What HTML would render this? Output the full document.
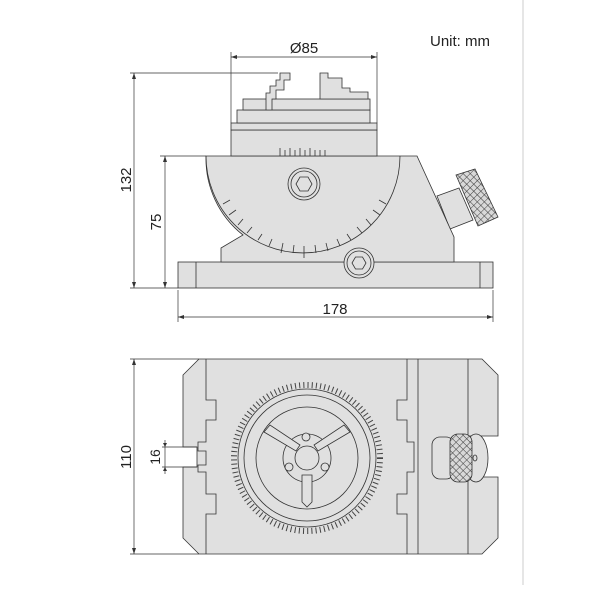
<!DOCTYPE html>
<html><head><style>
html,body{margin:0;padding:0;background:#fff;}
svg{display:block;}
text{font-family:"Liberation Sans",Arial,sans-serif;fill:#222;}
</style></head><body>
<svg width="600" height="600" viewBox="0 0 600 600" xmlns="http://www.w3.org/2000/svg">
<defs>
<pattern id="kn" width="5" height="5" patternUnits="userSpaceOnUse" patternTransform="rotate(45)">
<rect width="5" height="5" fill="#d8d8d8"/>
<path d="M0 0H5M0 0V5" stroke="#333" stroke-width="0.9"/>
</pattern>
</defs>
<line x1="523" y1="0" x2="523" y2="585" stroke="#ccc" stroke-width="1"/>
<text x="430" y="46" font-size="15">Unit: mm</text>

<g stroke="#333" stroke-width="0.8" fill="#e0e0e0">
<polygon points="437,196 459,188 473,220 450,229"/>
<polygon points="456,175 475,169 498,217 478,226" fill="url(#kn)"/>
<rect x="178" y="262" width="315" height="26"/>
<line x1="196" y1="262" x2="196" y2="288"/>
<line x1="480" y1="262" x2="480" y2="288"/>
<path d="M206,156 L417,156 L454,237 L454,262 L221,262 L221,248 L243,235 A97,97 0 0 1 206,156 Z"/>
<path d="M206,156 A97,97 0 0 0 400,156" fill="none"/>
<rect x="231" y="130" width="146" height="26"/>
<rect x="231" y="123" width="146" height="7"/>
<rect x="237" y="110" width="133" height="13"/>
<rect x="243" y="99" width="127" height="11"/>
<path d="M266,110 V93 H270 V86 H276 V80 H280 V73 H290 V80 H284 V90 H276 V99 H272 V110 Z"/>
<path d="M320,99 V73 H328 V78 H342 V88 H350 V92 H368 V99 Z"/>
<circle cx="304" cy="184" r="16"/>
<circle cx="304" cy="184" r="13"/>
<polygon points="296,184 300,177 308,177 312,184 308,191 300,191" />
<circle cx="359" cy="263" r="15"/>
<circle cx="359" cy="263" r="12"/>
<polygon points="352,263 355.5,257 362.5,257 366,263 362.5,269 355.5,269"/>
</g>
<g stroke="#333" stroke-width="0.8">
<line x1="230" y1="200" x2="223" y2="204"/><line x1="236" y1="210" x2="229" y2="215"/>
<line x1="243" y1="219" x2="238" y2="225"/><line x1="252" y1="227" x2="247" y2="233"/>
<line x1="262" y1="234" x2="258" y2="240"/><line x1="272" y1="239" x2="269" y2="246"/>
<line x1="283" y1="243" x2="281" y2="253"/><line x1="294" y1="245" x2="293" y2="253"/>
<line x1="304" y1="246" x2="304" y2="258"/><line x1="315" y1="245" x2="316" y2="253"/>
<line x1="326" y1="243" x2="328" y2="251"/><line x1="337" y1="239" x2="340" y2="246"/>
<line x1="347" y1="234" x2="351" y2="240"/><line x1="357" y1="227" x2="362" y2="233"/>
<line x1="366" y1="219" x2="371" y2="225"/><line x1="373" y1="210" x2="380" y2="215"/>
<line x1="379" y1="200" x2="386" y2="204"/>
<path d="M280,148V156M285,150V156M290,148V156M295,150V156M300,148V156M305,150V156M310,148V156M315,150V156M320,150V156M325,150V156"/>
</g>
<g stroke="#333" stroke-width="0.7" fill="none">
<line x1="231" y1="52" x2="231" y2="123"/><line x1="377" y1="52" x2="377" y2="123"/>
<line x1="231" y1="57" x2="377" y2="57"/>
<line x1="130" y1="73" x2="278" y2="73"/>
<line x1="134" y1="73" x2="134" y2="288"/>
<line x1="130" y1="288" x2="178" y2="288"/>
<line x1="160" y1="156" x2="206" y2="156"/>
<line x1="165" y1="156" x2="165" y2="288"/>
<line x1="178" y1="290" x2="178" y2="322"/><line x1="493" y1="290" x2="493" y2="322"/>
<line x1="178" y1="317" x2="493" y2="317"/>
</g>
<g fill="#333">
<polygon points="231,57 237,55 237,59"/><polygon points="377,57 371,55 371,59"/>
<polygon points="134,73 132,79 136,79"/><polygon points="134,288 132,282 136,282"/>
<polygon points="165,156 163,162 167,162"/><polygon points="165,288 163,282 167,282"/>
<polygon points="178,317 184,315 184,319"/><polygon points="493,317 487,315 487,319"/>
</g>
<text x="304" y="53" font-size="15" text-anchor="middle">Ø85</text>
<text x="335" y="314" font-size="15" text-anchor="middle">178</text>
<text transform="translate(131,180) rotate(-90)" font-size="15" text-anchor="middle">132</text>
<text transform="translate(161,222) rotate(-90)" font-size="15" text-anchor="middle">75</text>

<g stroke="#333" stroke-width="0.8" fill="#e0e0e0">
<path d="M199,359 H482 L498,375 V436 H468 V477 H498 V538 L482,554 H199 L183,538 V467 H197 V447 H183 V375 Z"/>
<path d="M206,359V400H216V420H206V442H198V451H206V465H198V472H206V494H216V514H206V554" fill="none"/>
<path d="M407,359V400H397V420H407V442H414V472H407V494H397V514H407V554" fill="none"/>
<line x1="418" y1="359" x2="418" y2="554"/>
<line x1="468" y1="359" x2="468" y2="436"/><line x1="468" y1="477" x2="468" y2="554"/>
<rect x="432" y="437" width="22" height="42" rx="8"/>
<ellipse cx="476" cy="458" rx="12" ry="24"/>
<rect x="450" y="434" width="22" height="48" rx="8" fill="url(#kn)"/>
<ellipse cx="475" cy="458" rx="2" ry="3" fill="none"/>
<circle cx="307" cy="458" r="73" fill="none" stroke-dasharray="1 3.2" stroke-width="6" stroke="#444"/>
<circle cx="307" cy="458" r="69"/>
<circle cx="307" cy="458" r="63"/>
<circle cx="307" cy="458" r="51"/>
<circle cx="307" cy="458" r="24"/>
<path d="M264,432 L270,425 L300,445 L296,451 Z"/>
<path d="M350,432 L344,425 L314,445 L318,451 Z"/>
<path d="M302,475 H312 V502 L307,507 L302,502 Z"/>
<circle cx="307" cy="458" r="12"/>
<circle cx="306" cy="437" r="4"/><circle cx="289" cy="467" r="4"/><circle cx="325" cy="467" r="4"/>
</g>
<g stroke="#333" stroke-width="0.7" fill="none">
<line x1="130" y1="359" x2="199" y2="359"/><line x1="130" y1="554" x2="199" y2="554"/>
<line x1="134" y1="359" x2="134" y2="554"/>
<line x1="162" y1="447" x2="197" y2="447"/><line x1="162" y1="467" x2="197" y2="467"/>
<line x1="165" y1="440" x2="165" y2="474"/>
</g>
<g fill="#333">
<polygon points="134,359 132,365 136,365"/><polygon points="134,554 132,548 136,548"/>
<polygon points="165,447 163,443 167,443"/><polygon points="165,467 163,471 167,471"/>
</g>
<text transform="translate(131,457) rotate(-90)" font-size="15" text-anchor="middle">110</text>
<text transform="translate(160,457) rotate(-90)" font-size="14" text-anchor="middle">16</text>
</svg>
</body></html>
